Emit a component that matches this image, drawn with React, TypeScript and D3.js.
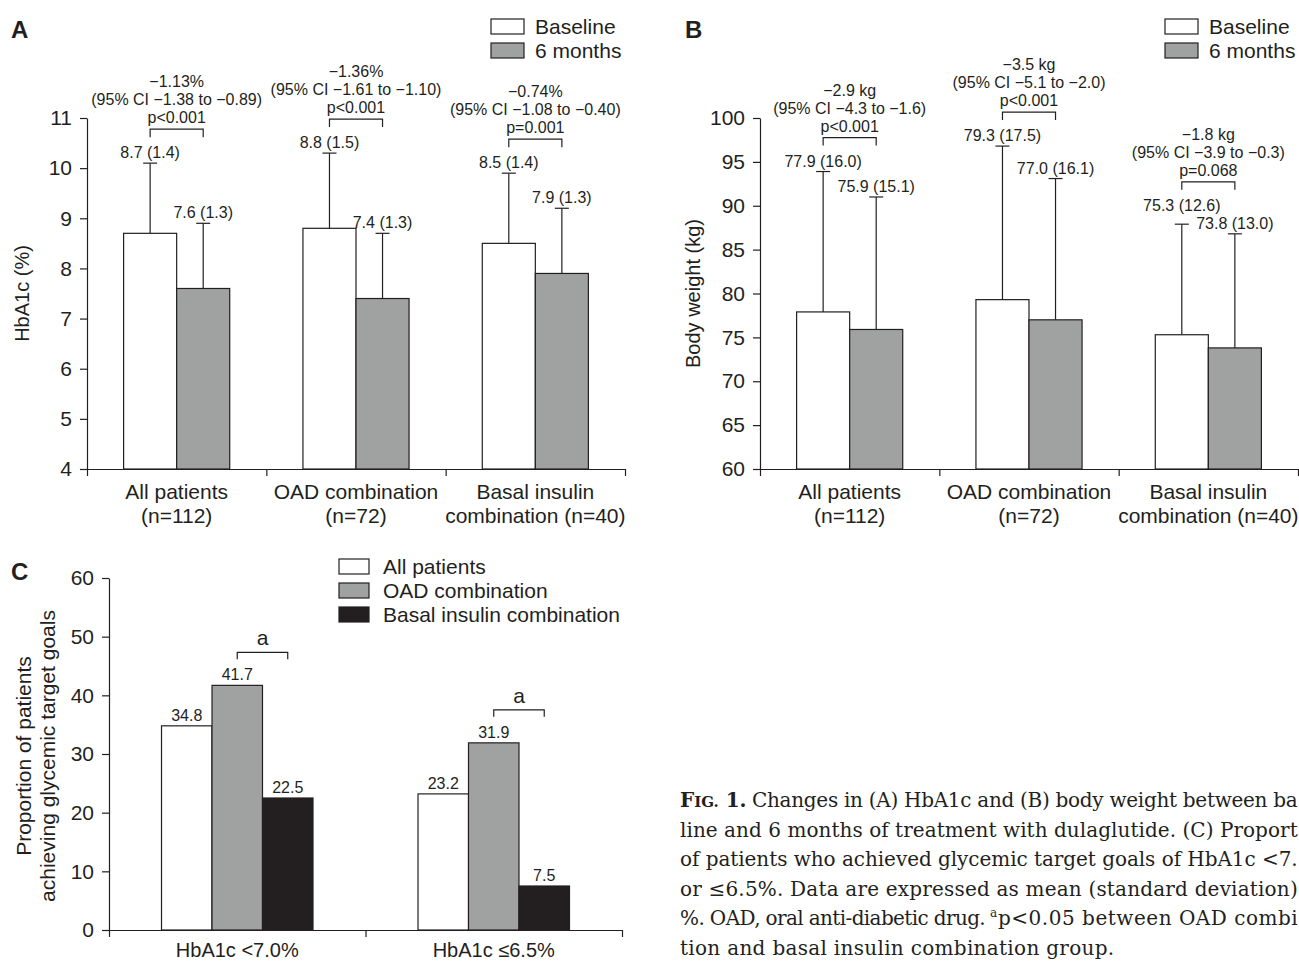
import React, { useRef, useEffect } from 'react';
import * as d3 from 'd3';

// ---- data ----
const groupLine1 = ['All patients', 'OAD combination', 'Basal insulin'];
const groupLine2 = ['(n=112)', '(n=72)', 'combination (n=40)'];
const timepoints = ['Baseline', '6 months'];

const hba1cBaseline = [8.7, 8.8, 8.5];
const hba1cBaselineSd = [1.4, 1.5, 1.4];
const hba1cSixMonths = [7.6, 7.4, 7.9];
const hba1cSixMonthsSd = [1.3, 1.3, 1.3];
const hba1cChange = ['\u22121.13%', '\u22121.36%', '\u22120.74%'];
const hba1cCi = ['(95% CI \u22121.38 to \u22120.89)', '(95% CI \u22121.61 to \u22121.10)', '(95% CI \u22121.08 to \u22120.40)'];
const hba1cP = ['p<0.001', 'p<0.001', 'p=0.001'];
const hba1cTicks = [4, 5, 6, 7, 8, 9, 10, 11];

const weightBaseline = [77.9, 79.3, 75.3];
const weightBaselineSd = [16.0, 17.5, 12.6];
const weightSixMonths = [75.9, 77.0, 73.8];
const weightSixMonthsSd = [15.1, 16.1, 13.0];
const weightChange = ['\u22122.9 kg', '\u22123.5 kg', '\u22121.8 kg'];
const weightCi = ['(95% CI \u22124.3 to \u22121.6)', '(95% CI \u22125.1 to \u22122.0)', '(95% CI \u22123.9 to \u22120.3)'];
const weightP = ['p<0.001', 'p<0.001', 'p=0.068'];
const weightTicks = [60, 65, 70, 75, 80, 85, 90, 95, 100];

const targetCategories = ['HbA1c <7.0%', 'HbA1c \u22646.5%'];
const targetSeries = ['All patients', 'OAD combination', 'Basal insulin combination'];
const targetAllPatients = [34.8, 23.2];
const targetOad = [41.7, 31.9];
const targetBasal = [22.5, 7.5];
const targetTicks = [0, 10, 20, 30, 40, 50, 60];

// caption lines as they show in the (cropped) figure
const captionLines = [
  'Changes in (A) HbA1c and (B) body weight between ba',
  'line and 6 months of treatment with dulaglutide. (C) Proport',
  'of patients who achieved glycemic target goals of HbA1c <7.',
  'or \u22646.5%. Data are expressed as mean (standard deviation)',
  '%. OAD, oral anti-diabetic drug.',
  'tion and basal insulin combination group.',
];
const captionFootnote = 'p<0.05 between OAD combi';

const INK = '#231f20';
const GRAY = '#a0a2a1';
const SANS = '"Liberation Sans", Arial, Helvetica, sans-serif';
const SERIF = '"DejaVu Serif", "Liberation Serif", serif';

const styleAxis = (sel) => {
  sel.select('.domain').attr('stroke', INK).attr('stroke-width', 1.2);
  sel.selectAll('.tick line').attr('stroke', INK).attr('stroke-width', 1.2);
  sel.selectAll('.tick text')
    .attr('fill', INK)
    .style('font-family', SANS)
    .style('font-size', '21px');
};

// Panels A and B: baseline vs 6 months with SD bars and change annotations
function drawChangePanel(svg, cfg) {
  const { x0, x1, yDomain, ticks, base, baseSd, post, postSd, change, ci, pval } = cfg;
  const yTop = 118, yBottom = 469;
  const g = svg.append('g');

  const y = d3.scaleLinear().domain(yDomain).range([yBottom, yTop]);
  const x = d3.scaleBand().domain(groupLine1).range([x0, x1]);
  const xs = d3.scaleBand().domain(timepoints).range([0, x.bandwidth()]).paddingOuter(cfg.pad);

  // y axis
  g.append('g')
    .attr('transform', `translate(${x0},0)`)
    .call(d3.axisLeft(y).tickValues(ticks).tickFormat(d3.format('d')).tickSize(7).tickSizeOuter(0).tickPadding(8))
    .call(styleAxis);

  // x axis with ticks at group boundaries
  const xb = d3.scaleLinear().domain([0, groupLine1.length]).range([x0, x1]);
  g.append('g')
    .attr('transform', `translate(0,${yBottom})`)
    .call(d3.axisBottom(xb).tickValues(d3.range(groupLine1.length + 1)).tickFormat(() => '').tickSize(7).tickSizeOuter(0))
    .call(styleAxis);

  groupLine1.forEach((grp, i) => {
    const vals = [base[i], post[i]];
    const sds = [baseSd[i], postSd[i]];
    const cx = vals.map((v, j) => x(grp) + xs(timepoints[j]) + xs.bandwidth() / 2);

    vals.forEach((v, j) => {
      const bx = x(grp) + xs(timepoints[j]);
      const top = y(v + sds[j]);
      g.append('line')
        .attr('x1', cx[j]).attr('x2', cx[j])
        .attr('y1', y(v)).attr('y2', top)
        .attr('stroke', INK).attr('stroke-width', 1.2);
      g.append('line')
        .attr('x1', cx[j] - 7).attr('x2', cx[j] + 7)
        .attr('y1', top).attr('y2', top)
        .attr('stroke', INK).attr('stroke-width', 1.2);
      g.append('rect')
        .attr('x', bx).attr('y', y(v))
        .attr('width', xs.bandwidth()).attr('height', yBottom - y(v))
        .attr('fill', j === 0 ? '#ffffff' : GRAY)
        .attr('stroke', INK).attr('stroke-width', 1.2);
    });

    // value labels, lift the baseline label if it would collide
    let baseY = y(vals[0] + sds[0]) - 5;
    const postY = y(vals[1] + sds[1]) - 5;
    if (postY - baseY < 18) baseY = postY - 18;
    const fmt = (v, s) => `${v.toFixed(1)} (${s.toFixed(1)})`;
    g.append('text').attr('x', cx[0]).attr('y', baseY).text(fmt(vals[0], sds[0]))
      .attr('text-anchor', 'middle').style('font-size', '16px');
    g.append('text').attr('x', cx[1]).attr('y', postY).text(fmt(vals[1], sds[1]))
      .attr('text-anchor', 'middle').style('font-size', '16px');

    // bracket + annotation
    const by = Math.min(baseY, postY) - 29;
    g.append('path')
      .attr('d', `M${cx[0]},${by + 8}V${by}H${cx[1]}V${by + 8}`)
      .attr('fill', 'none').attr('stroke', INK).attr('stroke-width', 1.2);
    const mid = x(grp) + x.bandwidth() / 2;
    [[pval[i], 6], [ci[i], 24], [change[i], 42]].forEach(([t, off]) => {
      g.append('text').attr('x', mid).attr('y', by - off).text(t)
        .attr('text-anchor', 'middle').style('font-size', '16px');
    });

    // category labels
    g.append('text').attr('x', mid).attr('y', 499).text(grp)
      .attr('text-anchor', 'middle').style('font-size', '21px');
    g.append('text').attr('x', mid).attr('y', 523).text(groupLine2[i])
      .attr('text-anchor', 'middle').style('font-size', '21px');
  });

  // y title
  g.append('text')
    .attr('transform', `translate(${cfg.titleX},${(yTop + yBottom) / 2}) rotate(-90)`)
    .attr('text-anchor', 'middle')
    .style('font-size', '20px')
    .text(cfg.yTitle);

  // panel letter
  g.append('text').attr('x', cfg.letterX).attr('y', 38).text(cfg.letter)
    .style('font-size', '24px').style('font-weight', 'bold');

  // legend
  timepoints.forEach((t, j) => {
    g.append('rect')
      .attr('x', cfg.legendX).attr('y', 19 + j * 24)
      .attr('width', 33).attr('height', 15)
      .attr('fill', j === 0 ? '#ffffff' : GRAY)
      .attr('stroke', INK).attr('stroke-width', 1.2);
    g.append('text').attr('x', cfg.legendX + 44).attr('y', 34 + j * 24).text(t)
      .style('font-size', '21px');
  });
}

// Panel C: proportion reaching target
function drawTargetPanel(svg) {
  const g = svg.append('g');
  const x0 = 109, x1 = 622, yTop = 578, yBottom = 930;
  const y = d3.scaleLinear().domain([0, 60]).range([yBottom, yTop]);
  const x = d3.scaleBand().domain(targetCategories).range([x0, x1]);
  const xs = d3.scaleBand().domain(targetSeries).range([0, x.bandwidth()]).paddingOuter(1.04);
  const fills = ['#ffffff', GRAY, INK];
  const seriesValues = [targetAllPatients, targetOad, targetBasal];

  g.append('g')
    .attr('transform', `translate(${x0},0)`)
    .call(d3.axisLeft(y).tickValues(targetTicks).tickSize(7).tickSizeOuter(0).tickPadding(8))
    .call(styleAxis);

  const xb = d3.scaleLinear().domain([0, targetCategories.length]).range([x0, x1]);
  g.append('g')
    .attr('transform', `translate(0,${yBottom})`)
    .call(d3.axisBottom(xb).tickValues(d3.range(targetCategories.length + 1)).tickFormat(() => '').tickSize(7).tickSizeOuter(0))
    .call(styleAxis);

  targetCategories.forEach((cat, i) => {
    const cx = targetSeries.map(s => x(cat) + xs(s) + xs.bandwidth() / 2);
    targetSeries.forEach((s, k) => {
      const v = seriesValues[k][i];
      g.append('rect')
        .attr('x', x(cat) + xs(s)).attr('y', y(v))
        .attr('width', xs.bandwidth()).attr('height', yBottom - y(v))
        .attr('fill', fills[k]).attr('stroke', INK).attr('stroke-width', 1.2);
      g.append('text').attr('x', cx[k]).attr('y', y(v) - 5).text(v.toFixed(1))
        .attr('text-anchor', 'middle').style('font-size', '16px');
    });
    // OAD vs basal bracket
    const by = y(targetOad[i]) - 33;
    g.append('path')
      .attr('d', `M${cx[1]},${by + 7}V${by}H${cx[2]}V${by + 7}`)
      .attr('fill', 'none').attr('stroke', INK).attr('stroke-width', 1.2);
    g.append('text').attr('x', (cx[1] + cx[2]) / 2).attr('y', by - 7).text('a')
      .attr('text-anchor', 'middle').style('font-size', '21px');

    g.append('text').attr('x', x(cat) + x.bandwidth() / 2).attr('y', 957).text(cat)
      .attr('text-anchor', 'middle').style('font-size', '20px');
  });

  const ty = g.append('text')
    .attr('transform', `translate(33,${(yTop + yBottom) / 2 + 2}) rotate(-90)`)
    .attr('text-anchor', 'middle')
    .style('font-size', '21px');
  ty.append('tspan').attr('x', 0).attr('dy', '-0.1em').text('Proportion of patients');
  ty.append('tspan').attr('x', 0).attr('dy', '1.15em').text('achieving glycemic target goals');

  g.append('text').attr('x', 11).attr('y', 580).text('C')
    .style('font-size', '24px').style('font-weight', 'bold');

  targetSeries.forEach((s, k) => {
    g.append('rect')
      .attr('x', 339).attr('y', 559 + k * 24)
      .attr('width', 30).attr('height', 15)
      .attr('fill', fills[k]).attr('stroke', INK).attr('stroke-width', 1.2);
    g.append('text').attr('x', 383).attr('y', 574 + k * 24).text(s)
      .style('font-size', '21px');
  });
}

function drawCaption(svg) {
  const g = svg.append('g')
    .style('font-family', SERIF)
    .style('font-size', '20px')
    .style('letter-spacing', '0.3px');
  const x = 680, right = 1298, lh = 29.6, top = 807;

  const t0 = g.append('text').attr('x', x).attr('y', top).style('letter-spacing', '0px');
  t0.append('tspan').style('font-weight', 'bold').text('F');
  t0.append('tspan').style('font-weight', 'bold').style('font-size', '15px').text('IG.');
  t0.append('tspan').style('font-weight', 'bold').text(' 1.');

  // justified lines run to the right edge
  const starts = [752, x, x, x];
  starts.forEach((sx, i) => {
    g.append('text').attr('x', sx).attr('y', top + i * lh)
      .attr('textLength', right - sx).attr('lengthAdjust', 'spacing')
      .text(captionLines[i]);
  });

  g.append('text').attr('x', x).attr('y', top + 4 * lh)
    .attr('textLength', 306).attr('lengthAdjust', 'spacing')
    .text(captionLines[4]);
  g.append('text').attr('x', 990).attr('y', top + 4 * lh - 8)
    .style('font-size', '12px').text('a');
  g.append('text').attr('x', 998).attr('y', top + 4 * lh)
    .attr('textLength', right - 998).attr('lengthAdjust', 'spacing')
    .text(captionFootnote);

  g.append('text').attr('x', x).attr('y', top + 5 * lh).text(captionLines[5]);
}

export default function App() {
  const svgRef = useRef(null);

  useEffect(() => {
    document.body.style.margin = '0';
    const svg = d3.select(svgRef.current);
    svg.selectAll('*').remove();
    svg.style('font-family', SANS).attr('fill', INK);

    drawChangePanel(svg, {
      x0: 87, x1: 625, pad: 0.69,
      yDomain: [4, 11], ticks: hba1cTicks,
      base: hba1cBaseline, baseSd: hba1cBaselineSd,
      post: hba1cSixMonths, postSd: hba1cSixMonthsSd,
      change: hba1cChange, ci: hba1cCi, pval: hba1cP,
      yTitle: 'HbA1c (%)', titleX: 29,
      letter: 'A', letterX: 11, legendX: 491,
    });
    drawChangePanel(svg, {
      x0: 760, x1: 1298, pad: 0.69,
      yDomain: [60, 100], ticks: weightTicks,
      base: weightBaseline, baseSd: weightBaselineSd,
      post: weightSixMonths, postSd: weightSixMonthsSd,
      change: weightChange, ci: weightCi, pval: weightP,
      yTitle: 'Body weight (kg)', titleX: 700,
      letter: 'B', letterX: 685, legendX: 1165,
    });
    drawTargetPanel(svg);
    drawCaption(svg);
  }, []);

  return (
    <svg
      ref={svgRef}
      width={1299}
      height={963}
      style={{ display: 'block', background: '#ffffff', overflow: 'hidden' }}
    />
  );
}
